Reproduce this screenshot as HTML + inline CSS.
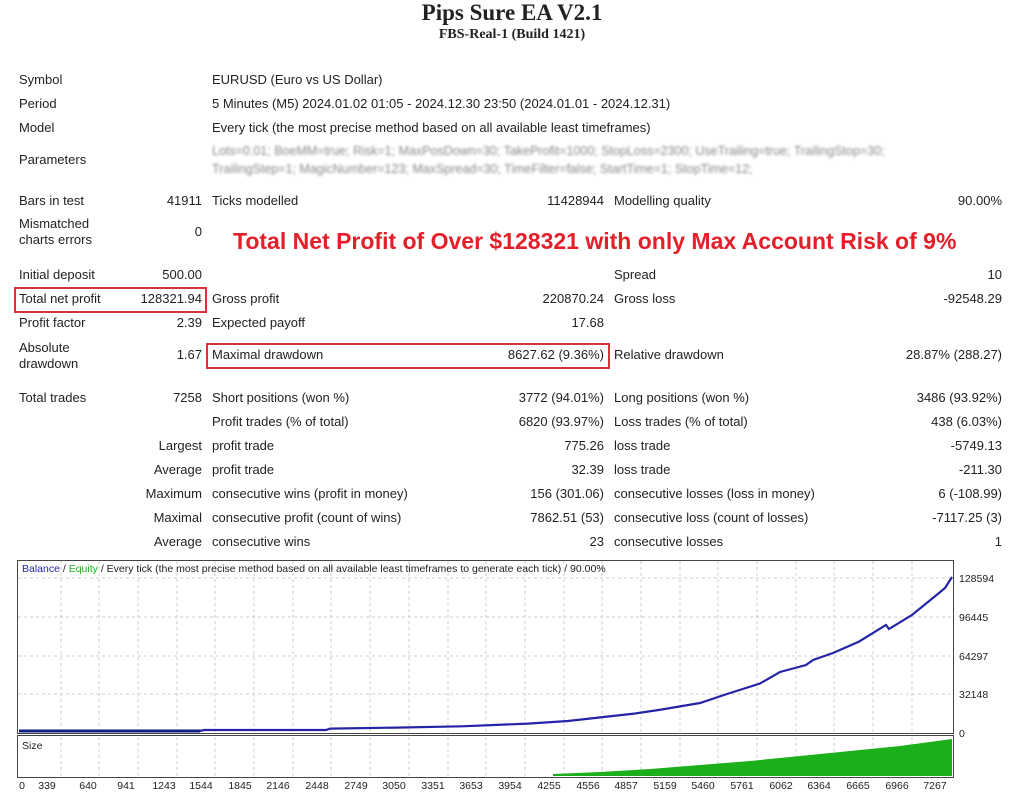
<!DOCTYPE html>
<html><head><meta charset="utf-8"><style>
body{margin:0;width:1024px;height:798px;background:#fff;position:relative;overflow:hidden;font-family:"Liberation Sans",sans-serif;color:#222;font-size:13px}
.t{position:absolute;white-space:nowrap;line-height:16px}
.r{text-align:right}
</style></head><body>
<div class="t" style="left:0;width:1024px;top:0;text-align:center;font:bold 23px 'Liberation Serif',serif;line-height:26px">Pips Sure EA V2.1</div>
<div class="t" style="left:0;width:1024px;top:27px;text-align:center;font:bold 14px 'Liberation Serif',serif">FBS-Real-1 (Build 1421)</div>

<div class="t" style="left:19px;top:72px">Symbol</div><div class="t" style="left:212px;top:72px">EURUSD (Euro vs US Dollar)</div>
<div class="t" style="left:19px;top:96px">Period</div><div class="t" style="left:212px;top:96px">5 Minutes (M5) 2024.01.02 01:05 - 2024.12.30 23:50 (2024.01.01 - 2024.12.31)</div>
<div class="t" style="left:19px;top:120px">Model</div><div class="t" style="left:212px;top:120px">Every tick (the most precise method based on all available least timeframes)</div>
<div class="t" style="left:19px;top:152px">Parameters</div>
<div class="t" style="left:212px;top:143px;color:#888;filter:blur(1.2px);font-size:12.5px">Lots=0.01; BoeMM=true; Risk=1; MaxPosDown=30; TakeProfit=1000; StopLoss=2300; UseTrailing=true; TrailingStop=30;</div>
<div class="t" style="left:212px;top:161px;color:#888;filter:blur(1.2px);font-size:12.5px">TrailingStep=1; MagicNumber=123; MaxSpread=30; TimeFilter=false; StartTime=1; StopTime=12;</div>

<div class="t" style="left:19px;top:193px">Bars in test</div><div class="t r" style="right:822px;top:193px">41911</div>
<div class="t" style="left:212px;top:193px">Ticks modelled</div><div class="t r" style="right:420px;top:193px">11428944</div>
<div class="t" style="left:614px;top:193px">Modelling quality</div><div class="t r" style="right:22px;top:193px">90.00%</div>

<div class="t" style="left:19px;top:216px">Mismatched</div><div class="t" style="left:19px;top:232px">charts errors</div><div class="t r" style="right:822px;top:224px">0</div>
<div class="t" style="left:233px;top:227px;color:#e3202a;font-weight:bold;font-size:23px;line-height:28px">Total Net Profit of Over $128321 with only Max Account Risk of 9%</div>

<div class="t" style="left:19px;top:267px">Initial deposit</div><div class="t r" style="right:822px;top:267px">500.00</div>
<div class="t" style="left:614px;top:267px">Spread</div><div class="t r" style="right:22px;top:267px">10</div>

<div style="position:absolute;left:14px;top:287px;width:189px;height:22px;border:2px solid #d9333a"></div>
<div class="t" style="left:19px;top:291px">Total net profit</div><div class="t r" style="right:822px;top:291px">128321.94</div>
<div class="t" style="left:212px;top:291px">Gross profit</div><div class="t r" style="right:420px;top:291px">220870.24</div>
<div class="t" style="left:614px;top:291px">Gross loss</div><div class="t r" style="right:22px;top:291px">-92548.29</div>

<div class="t" style="left:19px;top:315px">Profit factor</div><div class="t r" style="right:822px;top:315px">2.39</div>
<div class="t" style="left:212px;top:315px">Expected payoff</div><div class="t r" style="right:420px;top:315px">17.68</div>

<div class="t" style="left:19px;top:340px">Absolute</div><div class="t" style="left:19px;top:356px">drawdown</div><div class="t r" style="right:822px;top:347px">1.67</div>
<div style="position:absolute;left:206px;top:343px;width:400px;height:22px;border:2px solid #d9333a"></div>
<div class="t" style="left:212px;top:347px">Maximal drawdown</div><div class="t r" style="right:420px;top:347px">8627.62 (9.36%)</div>
<div class="t" style="left:614px;top:347px">Relative drawdown</div><div class="t r" style="right:22px;top:347px">28.87% (288.27)</div>

<div class="t" style="left:19px;top:390px">Total trades</div><div class="t r" style="right:822px;top:390px">7258</div>
<div class="t" style="left:212px;top:390px">Short positions (won %)</div><div class="t r" style="right:420px;top:390px">3772 (94.01%)</div>
<div class="t" style="left:614px;top:390px">Long positions (won %)</div><div class="t r" style="right:22px;top:390px">3486 (93.92%)</div>

<div class="t" style="left:212px;top:414px">Profit trades (% of total)</div><div class="t r" style="right:420px;top:414px">6820 (93.97%)</div>
<div class="t" style="left:614px;top:414px">Loss trades (% of total)</div><div class="t r" style="right:22px;top:414px">438 (6.03%)</div>

<div class="t r" style="right:822px;top:438px">Largest</div><div class="t" style="left:212px;top:438px">profit trade</div><div class="t r" style="right:420px;top:438px">775.26</div>
<div class="t" style="left:614px;top:438px">loss trade</div><div class="t r" style="right:22px;top:438px">-5749.13</div>

<div class="t r" style="right:822px;top:462px">Average</div><div class="t" style="left:212px;top:462px">profit trade</div><div class="t r" style="right:420px;top:462px">32.39</div>
<div class="t" style="left:614px;top:462px">loss trade</div><div class="t r" style="right:22px;top:462px">-211.30</div>

<div class="t r" style="right:822px;top:486px">Maximum</div><div class="t" style="left:212px;top:486px">consecutive wins (profit in money)</div><div class="t r" style="right:420px;top:486px">156 (301.06)</div>
<div class="t" style="left:614px;top:486px">consecutive losses (loss in money)</div><div class="t r" style="right:22px;top:486px">6 (-108.99)</div>

<div class="t r" style="right:822px;top:510px">Maximal</div><div class="t" style="left:212px;top:510px">consecutive profit (count of wins)</div><div class="t r" style="right:420px;top:510px">7862.51 (53)</div>
<div class="t" style="left:614px;top:510px">consecutive loss (count of losses)</div><div class="t r" style="right:22px;top:510px">-7117.25 (3)</div>

<div class="t r" style="right:822px;top:534px">Average</div><div class="t" style="left:212px;top:534px">consecutive wins</div><div class="t r" style="right:420px;top:534px">23</div>
<div class="t" style="left:614px;top:534px">consecutive losses</div><div class="t r" style="right:22px;top:534px">1</div>

<svg style="position:absolute;left:0;top:0" width="1024" height="798">
<g stroke="#ccc" stroke-dasharray="3,3" stroke-width="1">
<line x1="18" y1="578" x2="953" y2="578"/><line x1="18" y1="617" x2="953" y2="617"/><line x1="18" y1="656" x2="953" y2="656"/><line x1="18" y1="694" x2="953" y2="694"/>
<path d="M61 561V732M99 561V732M138 561V732M177 561V732M215 561V732M254 561V732M293 561V732M331 561V732M370 561V732M409 561V732M448 561V732M486 561V732M525 561V732M564 561V732M602 561V732M641 561V732M680 561V732M718 561V732M757 561V732M796 561V732M834 561V732M873 561V732M912 561V732M61 737V776M99 737V776M138 737V776M177 737V776M215 737V776M254 737V776M293 737V776M331 737V776M370 737V776M409 737V776M448 737V776M486 737V776M525 737V776M564 737V776M602 737V776M641 737V776M680 737V776M718 737V776M757 737V776M796 737V776M834 737V776M873 737V776M912 737V776"/>
</g>
<rect x="17.5" y="560.5" width="936" height="173" fill="none" stroke="#444"/>
<rect x="17.5" y="735.5" width="936" height="42" fill="none" stroke="#444"/>
<path d="M553 776 L553 774 L600 772 L650 769 L700 765 L750 761 L800 756 L850 751 L900 746 L952 739 L952 776Z" fill="#1bb01b"/>
<polyline fill="none" stroke="#2424a8" stroke-width="2.2" points="19,731 200,731 204,730 326,730 330,728.6 396,727.6 462,726.3 528,723.6 568,721 634,713.6 661,709.6 700,703 727,694 760,683.5 780,672 806,665 813,660 833,653 859,641.6 886,625 889,629 912,615 939,593 945,588 952,577"/>
<polyline fill="none" stroke="#102080" stroke-width="3" points="19,731 200,731"/>
<g font-family="Liberation Sans,sans-serif" font-size="10.5" fill="#222">
<text x="22" y="572"><tspan fill="#2424a8">Balance</tspan> / <tspan fill="#1bb01b">Equity</tspan> / Every tick (the most precise method based on all available least timeframes to generate each tick) / 90.00%</text>
<text x="22" y="749">Size</text>
<text x="959" y="582">128594</text><text x="959" y="621">96445</text><text x="959" y="660">64297</text><text x="959" y="698">32148</text><text x="959" y="737">0</text>
<g text-anchor="middle"><text x="22" y="789">0</text><text x="47" y="789">339</text><text x="88" y="789">640</text><text x="126" y="789">941</text><text x="164" y="789">1243</text><text x="201" y="789">1544</text><text x="240" y="789">1845</text><text x="278" y="789">2146</text><text x="317" y="789">2448</text><text x="356" y="789">2749</text><text x="394" y="789">3050</text><text x="433" y="789">3351</text><text x="471" y="789">3653</text><text x="510" y="789">3954</text><text x="549" y="789">4255</text><text x="588" y="789">4556</text><text x="626" y="789">4857</text><text x="665" y="789">5159</text><text x="703" y="789">5460</text><text x="742" y="789">5761</text><text x="781" y="789">6062</text><text x="819" y="789">6364</text><text x="858" y="789">6665</text><text x="897" y="789">6966</text><text x="935" y="789">7267</text></g>
</g>
</svg>
</body></html>
